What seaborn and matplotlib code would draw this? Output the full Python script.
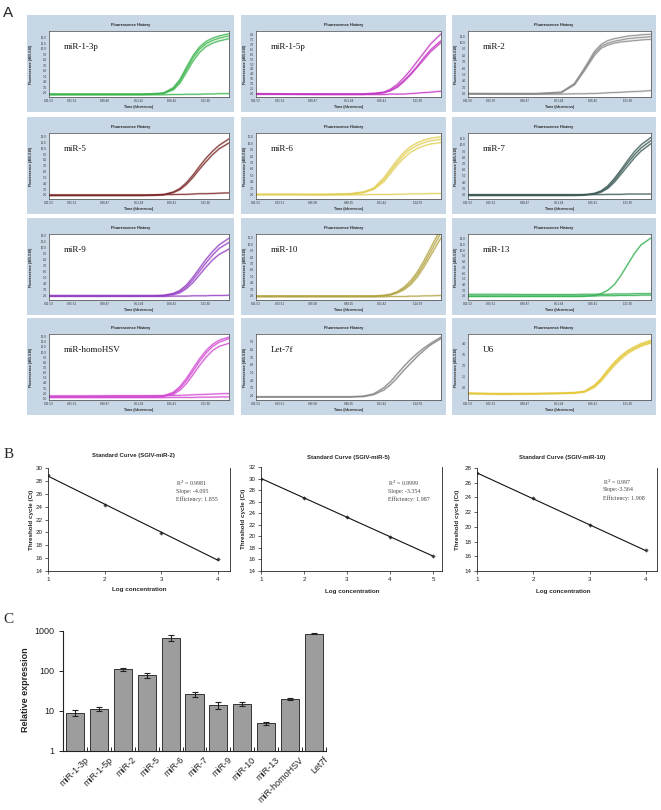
import numpy as np
import matplotlib
matplotlib.use("Agg")
import matplotlib.pyplot as plt
import matplotlib.transforms as mtransforms
from matplotlib.patches import Rectangle
import seaborn as sns

sns.set_style("white")
plt.rcParams['font.family'] = ['Liberation Sans', 'DejaVu Sans']

# ---------------- data: panel A (amplification curves) ----------------
amp_t = [0, 10, 20, 28, 32, 35, 38, 40, 42, 44, 46, 48, 50, 52, 55]

mir_1_3p_rise = [[1.7, 1.7, 1.7, 1.7, 1.75, 1.9, 2.9, 4.4, 6.6, 8.7, 10.3, 11.3, 11.9, 12.3, 12.7],
                 [1.7, 1.7, 1.7, 1.7, 1.75, 1.9, 2.7, 4.1, 6.2, 8.3, 9.9, 10.9, 11.5, 11.9, 12.3],
                 [1.7, 1.7, 1.7, 1.7, 1.75, 1.85, 2.5, 3.7, 5.7, 7.7, 9.3, 10.4, 11.0, 11.4, 11.8]]
mir_1_3p_flat = [[1.6, 1.6, 1.6, 1.6, 1.6, 1.6, 1.65, 1.65, 1.7, 1.7, 1.7, 1.75, 1.75, 1.8, 1.8]]

mir_1_5p_rise = [[1.9, 1.9, 1.9, 1.9, 1.9, 1.95, 2.1, 2.4, 2.9, 3.6, 4.4, 5.3, 6.2, 7.1, 8.1],
                 [1.9, 1.9, 1.9, 1.9, 1.9, 1.95, 2.05, 2.3, 2.7, 3.3, 4.0, 4.8, 5.7, 6.5, 7.4],
                 [1.9, 1.9, 1.9, 1.9, 1.9, 1.95, 2.05, 2.25, 2.6, 3.2, 3.9, 4.7, 5.5, 6.3, 7.2]]
mir_1_5p_flat = [[1.95, 1.9, 1.85, 1.85, 1.85, 1.85, 1.85, 1.9, 1.9, 1.9, 1.95, 2.0, 2.05, 2.1, 2.2]]

mir_2_rise = [[2.0, 2.0, 2.0, 2.2, 3.6, 6.0, 8.6, 9.7, 10.3, 10.6, 10.8, 11.0, 11.1, 11.2, 11.3],
              [2.0, 2.0, 2.0, 2.2, 3.5, 5.8, 8.3, 9.4, 9.9, 10.2, 10.4, 10.6, 10.7, 10.8, 10.9],
              [2.0, 2.0, 2.0, 2.2, 3.4, 5.6, 8.0, 9.1, 9.6, 9.9, 10.1, 10.2, 10.3, 10.4, 10.5]]
mir_2_flat = [[2.0, 1.95, 1.95, 1.95, 2.0, 2.0, 2.05, 2.1, 2.15, 2.2, 2.25, 2.3, 2.35, 2.4, 2.5]]

mir_5_rise = [[1.9, 1.9, 1.9, 1.9, 1.95, 2.05, 2.5, 3.1, 4.1, 5.4, 6.9, 8.3, 9.5, 10.5, 11.6],
              [1.9, 1.9, 1.9, 1.9, 1.95, 2.0, 2.4, 2.9, 3.8, 5.0, 6.4, 7.7, 8.9, 9.9, 10.9]]
mir_5_flat = [[2.0, 2.0, 2.0, 2.0, 2.0, 2.05, 2.05, 2.1, 2.1, 2.15, 2.2, 2.2, 2.25, 2.3, 2.35]]

mir_6_rise = [[2.0, 2.0, 2.0, 2.1, 2.4, 3.0, 4.6, 6.0, 7.4, 8.6, 9.5, 10.1, 10.5, 10.8, 11.0],
              [2.0, 2.0, 2.0, 2.1, 2.35, 2.9, 4.3, 5.7, 7.0, 8.2, 9.1, 9.7, 10.1, 10.4, 10.6],
              [2.0, 2.0, 2.0, 2.05, 2.3, 2.8, 4.0, 5.3, 6.6, 7.7, 8.6, 9.2, 9.6, 9.9, 10.1]]
mir_6_flat = [[2.0, 2.0, 1.95, 1.95, 1.95, 2.0, 2.0, 2.0, 2.05, 2.05, 2.1, 2.1, 2.1, 2.15, 2.15]]

mir_7_rise = [[1.9, 1.9, 1.9, 1.9, 1.9, 1.95, 2.2, 2.6, 3.4, 4.6, 6.0, 7.5, 8.9, 10.0, 11.2],
              [1.9, 1.9, 1.9, 1.9, 1.9, 1.95, 2.15, 2.5, 3.2, 4.3, 5.7, 7.1, 8.4, 9.5, 10.7],
              [1.9, 1.9, 1.9, 1.9, 1.9, 1.95, 2.1, 2.4, 3.0, 4.0, 5.3, 6.6, 7.9, 9.0, 10.2]]
mir_7_flat = [[2.0, 2.0, 2.0, 2.0, 2.0, 2.0, 2.0, 2.0, 2.05, 2.05, 2.05, 2.1, 2.1, 2.1, 2.1]]

mir_9_rise = [[1.9, 1.9, 1.9, 1.9, 1.9, 1.95, 2.3, 2.8, 3.7, 5.0, 6.5, 8.0, 9.3, 10.4, 11.5],
              [1.9, 1.9, 1.9, 1.9, 1.9, 1.95, 2.2, 2.6, 3.4, 4.6, 6.0, 7.4, 8.7, 9.8, 10.8],
              [1.9, 1.9, 1.9, 1.9, 1.9, 1.95, 2.1, 2.4, 3.1, 4.1, 5.4, 6.7, 7.9, 8.8, 9.7]]
mir_9_flat = [[1.8, 1.8, 1.8, 1.8, 1.8, 1.8, 1.85, 1.85, 1.85, 1.9, 1.9, 1.9, 1.95, 1.95, 2.0]]

mir_10_rise = [[1.9, 1.9, 1.9, 1.9, 1.9, 1.9, 2.0, 2.2, 2.6, 3.3, 4.3, 5.7, 7.5, 9.5, 12.5],
               [1.9, 1.9, 1.9, 1.9, 1.9, 1.9, 2.0, 2.15, 2.5, 3.1, 4.0, 5.3, 7.0, 8.9, 11.8],
               [1.9, 1.9, 1.9, 1.9, 1.9, 1.9, 1.95, 2.1, 2.4, 2.9, 3.7, 4.9, 6.5, 8.3, 11.0]]
mir_10_flat = [[1.8, 1.8, 1.8, 1.8, 1.8, 1.8, 1.8, 1.85, 1.85, 1.85, 1.9, 1.9, 1.95, 1.95, 2.0]]

mir_13_rise = [[1.9, 1.9, 1.9, 1.9, 1.9, 1.95, 2.1, 2.4, 3.0, 4.0, 5.6, 7.5, 9.4, 10.9, 12.1]]
mir_13_flat = [[2.0, 2.0, 2.0, 2.0, 2.0, 2.0, 2.0, 2.05, 2.05, 2.05, 2.1, 2.1, 2.1, 2.15, 2.15],
               [2.3, 2.3, 2.25, 2.25, 2.25, 2.3, 2.3, 2.3, 2.3, 2.35, 2.35, 2.35, 2.4, 2.4, 2.4]]

mir_homohsv_rise = [[1.3, 1.3, 1.3, 1.3, 1.35, 1.5, 2.2, 3.3, 4.9, 6.8, 8.7, 10.3, 11.5, 12.3, 12.9],
                    [1.3, 1.3, 1.3, 1.3, 1.35, 1.45, 2.0, 3.0, 4.5, 6.3, 8.2, 9.8, 11.1, 11.9, 12.6],
                    [1.3, 1.3, 1.3, 1.3, 1.3, 1.4, 1.8, 2.6, 3.9, 5.6, 7.4, 9.0, 10.3, 11.1, 11.7]]
mir_homohsv_flat = [[1.5, 1.5, 1.55, 1.55, 1.55, 1.55, 1.6, 1.6, 1.65, 1.7, 1.75, 1.8, 1.85, 1.9, 1.95],
                    [1.15, 1.15, 1.15, 1.15, 1.15, 1.15, 1.2, 1.2, 1.2, 1.2, 1.25, 1.25, 1.25, 1.3, 1.3]]

let_7f_rise = [[1.8, 1.8, 1.8, 1.8, 1.9, 2.2, 3.0, 3.8, 4.8, 5.8, 6.7, 7.5, 8.2, 8.8, 9.6],
               [1.8, 1.8, 1.8, 1.8, 1.85, 2.1, 2.7, 3.4, 4.3, 5.3, 6.2, 7.1, 7.9, 8.6, 9.4]]
let_7f_flat = []

u6_rise = [[1.74, 1.71, 1.72, 1.74, 1.76, 1.82, 2.1, 2.4, 2.8, 3.15, 3.45, 3.68, 3.85, 4.0, 4.15],
           [1.72, 1.70, 1.71, 1.73, 1.75, 1.80, 2.05, 2.35, 2.73, 3.08, 3.38, 3.62, 3.8, 3.94, 4.09],
           [1.70, 1.68, 1.69, 1.71, 1.73, 1.78, 2.0, 2.28, 2.65, 3.0, 3.3, 3.55, 3.73, 3.88, 4.03]]
u6_flat = []

time_ticks = [0, 7, 17, 27.5, 37.5, 48]
times_a = ["0:11:53", "0:25:51", "0:38:48", "0:51:45", "1:06:42", "1:21:30"]
times_b = ["0:11:53", "0:25:51", "0:38:47", "0:51:44", "1:06:41", "1:21:30"]
times_c = ["0:11:50", "0:25:50", "0:38:47", "0:51:44", "1:06:45", "1:21:38"]
times_d = ["0:11:53", "0:23:51", "0:36:08", "0:48:25", "1:01:42", "1:14:59"]

# ---------------- data: panel B (standard curves) ----------------
log_conc_4 = [1, 2, 3, 4]
log_conc_5 = [1, 2, 3, 4, 5]
ct_mir2 = [28.9, 24.2, 19.9, 15.8]
ct_mir5 = [30.0, 26.7, 23.3, 19.9, 16.6]
ct_mir10 = [27.3, 23.9, 20.2, 16.8]
stats_mir2 = ["R$^2$ = 0.9981", "Slope: -4.095", "Efficiency: 1.855"]
stats_mir5 = ["R$^2$ = 0.9999", "Slope: -3.354", "Efficiency: 1.987"]
stats_mir10 = ["R$^2$ = 0.997", "Slope:-3.564", "Efficiency: 1.908"]

# ---------------- data: panel C (relative expression) ----------------
mirnas = ["miR-1-3p", "miR-1-5p", "miR-2", "miR-5", "miR-6", "miR-7",
          "miR-9", "miR-10", "miR-13", "miR-homoHSV", "Let7f"]
rel_expr = [9.0, 11.4, 110, 78, 680, 26, 14.1, 15.0, 4.9, 19.6, 855]
rel_err = [1.3, 1.3, 10, 13, 125, 3.5, 3.0, 1.8, 0.4, 1.1, 20]

# ---------------- layout helpers ----------------
W, H = 661, 810
fig = plt.figure(figsize=(W / 100, H / 100), dpi=100)


def rect(x0, y0, x1, y1):
    return [x0 / W, 1 - y1 / H, (x1 - x0) / W, (y1 - y0) / H]


def ftext(x, y, s, **kw):
    return fig.text(x / W, 1 - y / H, s, **kw)


serif = ['Liberation Serif', 'DejaVu Serif']

# ---------------- panel A ----------------
panels_a = [
    ("miR-1-3p", mir_1_3p_rise, mir_1_3p_flat, "#3cb54e", (1.2, 13.2), np.arange(2, 12.5, 1), times_a),
    ("miR-1-5p", mir_1_5p_rise, mir_1_5p_flat, "#c43ac4", (1.6, 8.4), np.arange(2, 8.1, 0.5), times_b),
    ("miR-2", mir_2_rise, mir_2_flat, "#8c8c8c", (1.5, 11.8), np.arange(2, 11.5, 1), times_c),
    ("miR-5", mir_5_rise, mir_5_flat, "#7a2626", (1.3, 12.6), np.arange(2, 12.5, 1), times_b),
    ("miR-6", mir_6_rise, mir_6_flat, "#e2cf55", (1.3, 11.6), np.arange(2, 11.5, 1), times_d),
    ("miR-7", mir_7_rise, mir_7_flat, "#3b5a58", (1.3, 11.9), np.arange(2, 11.5, 1), times_b),
    ("miR-9", mir_9_rise, mir_9_flat, "#9440c4", (1.2, 12.2), np.arange(2, 12.5, 1), times_b),
    ("miR-10", mir_10_rise, mir_10_flat, "#b3a544", (1.3, 11.6), np.arange(2, 11.5, 1), times_d),
    ("miR-13", mir_13_rise, mir_13_flat, "#33b152", (1.3, 12.8), np.arange(2, 12.5, 1), times_b),
    ("miR-homoHSV", mir_homohsv_rise, mir_homohsv_flat, "#d24cd2", (0.7, 13.5), np.arange(1, 13.5, 1), times_b),
    ("Let-7f", let_7f_rise, let_7f_flat, "#808080", (1.4, 10.0), np.arange(2, 9.5, 1), times_d),
    ("U6", u6_rise, u6_flat, "#e4c83a", (1.42, 4.44), np.arange(2, 4.1, 0.5), times_b),
]

box_x = [27, 241, 452]
box_w = [207, 205, 204]
box_y = [15, 117, 218, 318]
plot_off = [22, 15, 16]
bh = 97

ftext(3, 17, "A", fontsize=11, va='baseline', ha='left')

for i, (name, rises, flats, color, ylim, yticks, tlabels) in enumerate(panels_a):
    row, col = divmod(i, 3)
    bx, bw, by = box_x[col], box_w[col], box_y[row]
    fig.patches.append(Rectangle((bx / W, 1 - (by + bh) / H), bw / W, bh / H,
                                 transform=fig.transFigure, facecolor='#c8d7e6',
                                 edgecolor='none', zorder=-1))
    px0, px1 = bx + plot_off[col], bx + bw - 5
    ax = fig.add_axes(rect(px0, by + 16, px1, by + 82))
    ax.set_facecolor('white')
    for curve in flats + rises:
        sns.lineplot(x=amp_t, y=curve, ax=ax, color=color, lw=1.5, alpha=0.35)
        sns.lineplot(x=amp_t, y=curve, ax=ax, color=color, lw=0.55)
    ax.set_xlim(0, 55)
    ax.set_ylim(*ylim)
    ax.set_xticks(time_ticks)
    ax.set_xticklabels(tlabels)
    ax.set_yticks(yticks)
    ax.set_yticklabels([f"{v:.1f}" for v in yticks])
    ax.tick_params(labelsize=2.2, length=1, width=0.3, pad=0.6, colors='#333333')
    for s in ax.spines.values():
        s.set_linewidth(0.5)
        s.set_color('#444444')
    ax.set_xlabel("")
    ax.set_ylabel("")
    ax.text(0.08, 0.76, name, transform=ax.transAxes, fontsize=6.5,
            family=serif, va='center', ha='left', color='#111111')
    ftext(bx + bw / 2, by + 10, "Fluorescence History", fontsize=2.8,
          weight='bold', ha='center', va='center', color='#222222')
    ftext((px0 + px1) / 2, by + 92, "Time (hh:mm:ss)", fontsize=2.6,
          weight='bold', ha='center', va='center', color='#222222')
    ftext(bx + 4, by + 49, "Fluorescence (465-510)", fontsize=2.5, weight='bold',
          rotation=90, ha='center', va='center', color='#222222')

# ---------------- panel B ----------------
ftext(4, 458, "B", fontsize=11, family=serif, va='baseline', ha='left')

panels_b = [
    (log_conc_4, ct_mir2, "Standard Curve (SGIV-miR-2)", (48, 468, 230, 571), 4.21,
     (14, 30), stats_mir2, (176, 483), 32, (139, 590), (133, 455)),
    (log_conc_5, ct_mir5, "Standard Curve (SGIV-miR-5)", (261, 467, 442, 571), 5.21,
     (14, 32), stats_mir5, (388, 483), 243, (352, 591), (348, 458)),
    (log_conc_4, ct_mir10, "Standard Curve (SGIV-miR-10)", (477, 468, 657, 571), 4.2,
     (14, 28), stats_mir10, (603, 482), 458, (563, 591), (562, 458)),
]

for xs, ys, title, (x0, y0, x1, y1), xmax, ylim, stats, tpos, ylab_x, xlab_pos, title_pos in panels_b:
    ax = fig.add_axes(rect(x0, y0, x1, y1))
    sns.regplot(x=xs, y=ys, ax=ax, ci=None, marker='D', truncate=True,
                scatter_kws=dict(s=5, color='#222222', linewidths=0),
                line_kws=dict(color='#111111', lw=0.8))
    ax.set_xlim(1, xmax)
    ax.set_ylim(*ylim)
    ax.set_xticks(xs)
    ax.set_yticks(np.arange(ylim[0], ylim[1] + 0.1, 2))
    ax.tick_params(labelsize=4.5, length=2, width=0.5, pad=2, direction='out',
                   left=True, bottom=True, colors='#222222')
    ax.spines['top'].set_visible(False)
    for s in ['left', 'bottom', 'right']:
        ax.spines[s].set_linewidth(0.6)
        ax.spines[s].set_color('#222222')
    ax.set_xlabel("")
    ax.set_ylabel("")
    ftext(title_pos[0], title_pos[1], title, fontsize=4.3, weight='bold', ha='center', va='center')
    ftext(ylab_x, (y0 + y1) / 2, "Threshold cycle (Ct)", fontsize=4.5, weight='bold',
          rotation=90, ha='center', va='center')
    ftext(xlab_pos[0], xlab_pos[1], "Log concentration", fontsize=4.5, weight='bold',
          ha='center', va='center')
    for k, line in enumerate(stats):
        ftext(tpos[0], tpos[1] + 8 * k, line, fontsize=4.3, family=serif,
              ha='left', va='center', color='#444444')

# ---------------- panel C ----------------
ftext(3, 623, "C", fontsize=11, family=serif, va='baseline', ha='left')

ax = fig.add_axes(rect(63, 631, 326, 751))
ax.set_yscale('log')
sns.barplot(x=mirnas, y=rel_expr, ax=ax, color='#9d9d9d', saturation=1,
            edgecolor='#333333', linewidth=0.7, width=0.76)
ax.errorbar(np.arange(len(mirnas)), rel_expr, yerr=rel_err, fmt='none',
            ecolor='#222222', elinewidth=0.8, capsize=2.5, capthick=0.8)
ax.set_ylim(1, 1000)
ax.set_xlim(-0.5, len(mirnas) - 0.5)
ax.set_yticks([1, 10, 100, 1000])
ax.set_yticklabels(["1", "10", "100", "1000"])
ax.yaxis.set_minor_locator(matplotlib.ticker.NullLocator())
ax.set_xticks(np.arange(0.5, len(mirnas), 1), minor=True)
ax.tick_params(axis='x', which='major', length=0, pad=3)
ax.tick_params(axis='x', which='minor', length=3, width=0.7, direction='in', bottom=True)
ax.tick_params(axis='y', which='major', length=3, width=0.7, direction='out', left=True)
ax.tick_params(labelsize=6.5, colors='#222222')
sns.despine(ax=ax)
for s in ['left', 'bottom']:
    ax.spines[s].set_linewidth(0.8)
    ax.spines[s].set_color('#222222')
offset = mtransforms.ScaledTranslation(9 / 100, 0, fig.dpi_scale_trans)
for lab in ax.get_xticklabels():
    lab.set_rotation(45)
    lab.set_ha('right')
    lab.set_rotation_mode('anchor')
    lab.set_transform(lab.get_transform() + offset)
ax.set_xlabel("")
ax.set_ylabel("")
ftext(26, 690, "Relative expression", fontsize=6.5, weight='bold', rotation=90,
      ha='center', va='center')

fig.savefig("out.png", dpi=100)
